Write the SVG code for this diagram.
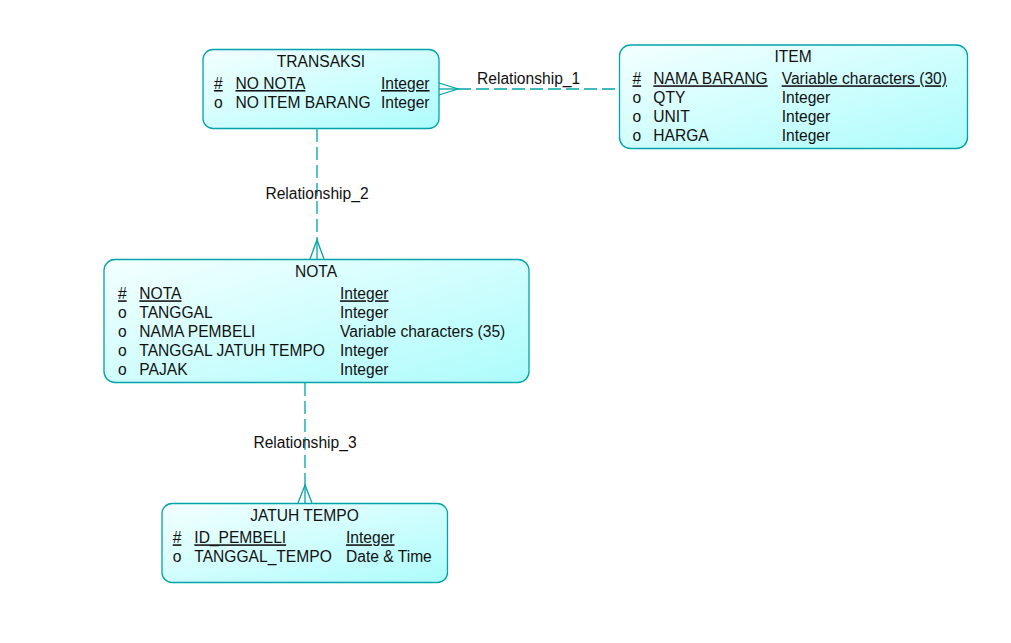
<svg xmlns="http://www.w3.org/2000/svg" width="1011" height="643" viewBox="0 0 1011 643">
<defs>
<linearGradient id="g" x1="0" y1="0" x2="1" y2="1">
<stop offset="0" stop-color="#F4FFFF"/>
<stop offset="1" stop-color="#ADFCFC"/>
</linearGradient>
<style>
.box{fill:url(#g);stroke:#00A4A8;stroke-width:1.3}
text{font-family:"Liberation Sans",Arial,sans-serif;font-size:15.6px;fill:#111}
.t{text-anchor:middle}
.u{text-decoration:underline}
.ln{stroke:#00A4A8;stroke-width:1.3;fill:none}
.d{stroke-dasharray:13 5}
</style>
</defs>
<rect width="1011" height="643" fill="#fff"/>
<g id="connectors">
<g id="rel1">
<line class="ln d" x1="458" y1="89" x2="619" y2="89"/>
<line class="ln" x1="439" y1="89" x2="458" y2="89"/>
<polyline class="ln" points="439,83 458,89 439,95"/>
<text x="477" y="84">Relationship_1</text>
</g>
<g id="rel2">
<line class="ln d" x1="317" y1="129" x2="317" y2="240"/>
<line class="ln" x1="317" y1="240" x2="317" y2="259"/>
<polyline class="ln" points="310,259 317,240 324,259"/>
<text class="t" x="317" y="199">Relationship_2</text>
</g>
<g id="rel3">
<line class="ln d" x1="305" y1="383" x2="305" y2="485"/>
<line class="ln" x1="305" y1="485" x2="305" y2="503"/>
<polyline class="ln" points="298,503 305,485 312,503"/>
<text class="t" x="305" y="448">Relationship_3</text>
</g>
</g>
<g id="TRANSAKSI">
<rect class="box" x="203" y="49.5" width="236" height="79" rx="10"/>
<text class="t" x="321" y="67">TRANSAKSI</text>
<text class="u" x="214" y="89">#</text><text class="u" x="235.5" y="89">NO NOTA</text><text class="u" x="381" y="89">Integer</text>
<text x="214" y="108">o</text><text x="235.5" y="108">NO ITEM BARANG</text><text x="381" y="108">Integer</text>
</g>
<g id="ITEM">
<rect class="box" x="619.5" y="45" width="348" height="103.5" rx="11"/>
<text class="t" x="793" y="62">ITEM</text>
<text class="u" x="632.5" y="84.3">#</text><text class="u" x="653.3" y="84.3">NAMA BARANG</text><text class="u" x="781.7" y="84.3">Variable characters (30)</text>
<text x="632.5" y="103.3">o</text><text x="653.3" y="103.3">QTY</text><text x="781.7" y="103.3">Integer</text>
<text x="632.5" y="122.3">o</text><text x="653.3" y="122.3">UNIT</text><text x="781.7" y="122.3">Integer</text>
<text x="632.5" y="141">o</text><text x="653.3" y="141">HARGA</text><text x="781.7" y="141">Integer</text>
</g>
<g id="NOTA">
<rect class="box" x="104" y="259.5" width="425" height="123" rx="11"/>
<text class="t" x="316" y="277">NOTA</text>
<text class="u" x="118" y="299.3">#</text><text class="u" x="139.3" y="299.3">NOTA</text><text class="u" x="340" y="299.3">Integer</text>
<text x="118" y="318">o</text><text x="139.3" y="318">TANGGAL</text><text x="340" y="318">Integer</text>
<text x="118" y="337">o</text><text x="139.3" y="337">NAMA PEMBELI</text><text x="340" y="337">Variable characters (35)</text>
<text x="118" y="356">o</text><text x="139.3" y="356">TANGGAL JATUH TEMPO</text><text x="340" y="356">Integer</text>
<text x="118" y="374.5">o</text><text x="139.3" y="374.5">PAJAK</text><text x="340" y="374.5">Integer</text>
</g>
<g id="JATUH_TEMPO">
<rect class="box" x="162" y="503.5" width="285.5" height="79" rx="10"/>
<text class="t" x="304.5" y="520.5">JATUH TEMPO</text>
<text class="u" x="172.7" y="543.3">#</text><text class="u" x="194.3" y="543.3">ID_PEMBELI</text><text class="u" x="346" y="543.3">Integer</text>
<text x="172.7" y="562">o</text><text x="194.3" y="562">TANGGAL_TEMPO</text><text x="346" y="562">Date &amp; Time</text>
</g>
</svg>
